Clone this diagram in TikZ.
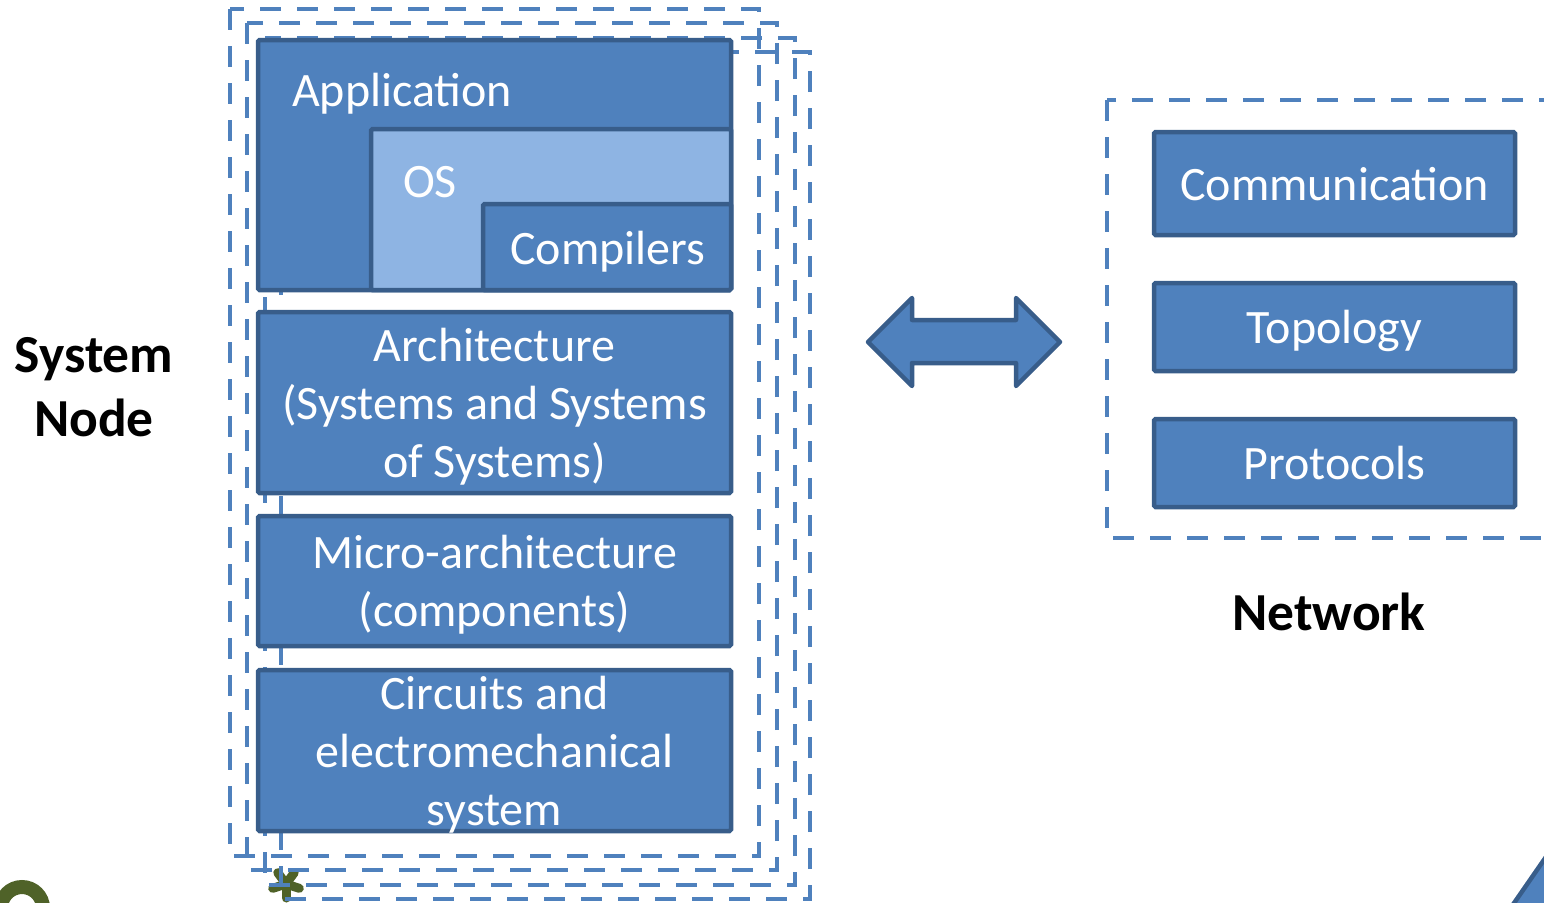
\documentclass[tikz,border=0pt]{standalone}
\usepackage{fontspec}
\setmainfont{Carlito}
\definecolor{fillblue}{HTML}{4F81BD}
\definecolor{edgeblue}{HTML}{385D8A}
\definecolor{lightblue}{HTML}{8EB4E3}
\definecolor{logogreen}{HTML}{4F6228}
\tikzset{
  layer/.style={draw=edgeblue, fill=fillblue, line width=4.5pt, rounded corners=1.5pt,
    text=white, align=center, inner sep=0pt, text depth=0pt,
    font=\fontsize{48}{58}\selectfont},
  oslayer/.style={layer, fill=lightblue},
  layertext/.style={text=white, inner sep=0pt, font=\fontsize{48}{58}\selectfont},
  frame/.style={draw=fillblue, line width=4.6pt, dash pattern=on 21pt off 16pt},
  heading/.style={text=black, align=center, inner sep=0pt,
    font=\bfseries\fontsize{53.5}{64.5}\selectfont},
  linkarrow/.style={draw=edgeblue, fill=fillblue, line width=4.5pt, line join=round}
}
\begin{document}
\begin{tikzpicture}[x=1pt, y=-1pt]
\useasboundingbox (0,0) rectangle (1544,902);
\clip (0,0) rectangle (1544,902);

% logo fragments at the lower edge
\draw[logogreen, line width=14pt] (22,908) circle[radius=21];
\foreach \a in {90,18,-54,-126,162}
  \draw[logogreen, line width=9pt, line cap=round] (286,884) -- ++(\a:14);

% stacked system-node frames
\draw[frame] (230,9) rectangle (759,856);
\draw[frame] (247,23) rectangle (777,870);
\draw[frame] (265,38) rectangle (795,885);
\draw[frame] (281,52) rectangle (810,899);

% software layers
\node[layer, minimum width=473pt, minimum height=250pt] (app) at (494.5,165) {};
\node[oslayer, minimum width=360pt, minimum height=161pt] (os) at (551,209.5) {};
\node[layer, minimum width=248pt, minimum height=86pt] (comp) at (607,247) {};
\node[layertext, anchor=base west] (appT) at (292,106) {Application};
\node[layertext, anchor=base west] (osT) at (403,197) {OS};
\node[layertext, anchor=base west] (compT) at (510,264) {Compilers};

% hardware layers
\node[layer, minimum width=473pt, minimum height=181pt] (arch) at (494.5,402.5)
  {Architecture\\(Systems and Systems\\of Systems)};
\node[layer, minimum width=473pt, minimum height=130pt] (micro) at (494.5,581)
  {Micro-architecture\\(components)};
\node[layer, minimum width=473pt, minimum height=161pt] (circ) at (494.5,750.5)
  {Circuits and\\electromechanical\\system};

\node[heading] (sys) at (94,387) {System\\Node};

% link between node and network
\draw[linkarrow] (868,342) -- (912,298) -- (912,320) -- (1016,320) -- (1016,298)
  -- (1060,342) -- (1016,386) -- (1016,363) -- (912,363) -- (912,386) -- cycle;

% network frame and its layers
\draw[frame] (1107,100) rectangle (1580,538);
\node[layer, minimum width=361pt, minimum height=103pt] (commu) at (1334.5,183.5) {Communication};
\node[layer, minimum width=361pt, minimum height=88pt] (topo) at (1334.5,327) {Topology};
\node[layer, minimum width=361pt, minimum height=88pt] (proto) at (1334.5,463) {Protocols};
\node[heading] (net) at (1329,612) {Network};

% corner of a neighbouring shape
\draw[linkarrow] (1512,906) -- (1548,854) -- (1548,906) -- cycle;
\end{tikzpicture}
\end{document}
